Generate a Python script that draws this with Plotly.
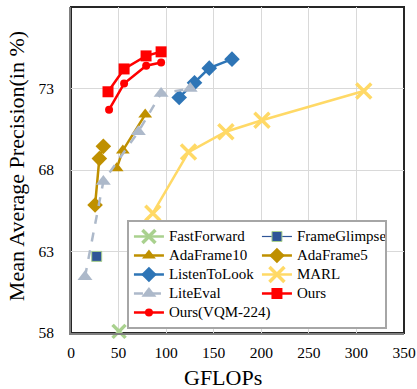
import plotly.graph_objects as go

# ---- data ----
ff_x = [50.5]
ff_y = [58.1]

fg_x = [27]
fg_y = [62.7]

ada10_x = [48, 54.5, 78]
ada10_y = [68.1, 69.2, 71.4]

ada5_x = [25.3, 29.8, 34]
ada5_y = [65.85, 68.7, 69.45]

ltl_x = [113.7, 129.8, 145.3, 169.2]
ltl_y = [72.45, 73.35, 74.25, 74.8]

marl_x = [86, 123.5, 162.8, 200.7, 307.7]
marl_y = [65.35, 69.1, 70.35, 71.05, 72.85]

lite_x = [14.7, 34, 70.8, 94.7, 125.3]
lite_y = [61.45, 67.3, 70.35, 72.7, 73.0]

ours_x = [38.9, 55.8, 78.9, 94.7]
ours_y = [72.8, 74.2, 75.0, 75.25]

vqm_x = [40, 55.8, 79, 94.7]
vqm_y = [71.7, 73.3, 74.4, 74.6]

x_ticks = [0, 50, 100, 150, 200, 250, 300, 350]
y_ticks = [58, 63, 68, 73, 78]

x_title = "GFLOPs"
y_title = "Mean Average Precision(in %)"

FONT = "Liberation Serif, Times New Roman, serif"

fig = go.Figure()

def add(name, x, y, color, symbol, size, dash="solid", lw=2.5, mline=None, mlinew=0, mcolor=None):
    fig.add_trace(go.Scatter(
        x=x, y=y, name='<span style="font-size:15px">' + name + '</span>',
        mode="lines+markers",
        line=dict(color=color, width=lw, dash=dash),
        marker=dict(symbol=symbol, size=size, color=mcolor or color,
                    line=dict(color=mline or (mcolor or color), width=mlinew)),
        cliponaxis=False,
    ))

add("FastForward", ff_x, ff_y, "#A9D18E", "x-thin", 13, mlinew=3.5)
add("FrameGlimpse", fg_x, fg_y, "#2F5597", "square", 10, lw=1.2, mline="#A9D18E", mlinew=1)
add("AdaFrame10", ada10_x, ada10_y, "#BF9000", "triangle-up", 12)
add("AdaFrame5", ada5_x, ada5_y, "#BF9000", "diamond", 12)
add("ListenToLook", ltl_x, ltl_y, "#2E75B6", "diamond", 12)
add("MARL", marl_x, marl_y, "#FFD966", "x-thin", 15, mlinew=3.5)
add("LiteEval", lite_x, lite_y, "#ADB9CA", "triangle-up", 13, dash="dash", lw=2.5)
add("Ours", ours_x, ours_y, "#FF0000", "square", 11)
add("Ours(VQM-224)", vqm_x, vqm_y, "#FF0000", "circle", 8)

fig.update_layout(
    width=417, height=389,
    margin=dict(l=71, r=13, t=7, b=56, autoexpand=False),
    paper_bgcolor="white", plot_bgcolor="white",
    font=dict(family=FONT, color="black", size=15),
    showlegend=True,
    legend=dict(
        orientation="h", x=0.168, y=0.0123, xanchor="left", yanchor="bottom",
        entrywidth=83, entrywidthmode="pixels",
        bgcolor="white", bordercolor="#A6A6A6", borderwidth=2,
        font=dict(family=FONT, size=10.8, color="black"),
        traceorder="normal",
    ),
    shapes=[dict(type="rect", xref="paper", yref="paper", x0=0, y0=0, x1=1, y1=1,
                 line=dict(color="#262626", width=2), layer="below")],
    annotations=[
        dict(text=x_title, xref="paper", yref="paper", x=0.455, y=-0.138,
             xanchor="center", yanchor="middle", showarrow=False,
             font=dict(family=FONT, size=22, color="black")),
        dict(text=y_title, xref="paper", yref="paper", x=-0.163, y=0.511,
             xanchor="center", yanchor="middle", showarrow=False, textangle=-90,
             font=dict(family=FONT, size=22, color="black")),
    ],
)

fig.update_xaxes(
    range=[0, 350], tickvals=x_ticks, ticktext=[str(v) for v in x_ticks],
    showgrid=True, gridcolor="#D9D9D9", gridwidth=1,
    showline=True, linecolor="#808080", linewidth=2,
    ticks="", zeroline=False, automargin=False,
    tickfont=dict(family=FONT, size=15.5, color="black"),
    ticklabelstandoff=4,
)
fig.update_yaxes(
    range=[58, 78], tickvals=y_ticks, ticktext=[str(v) for v in y_ticks],
    showgrid=True, gridcolor="#D9D9D9", gridwidth=1,
    showline=True, linecolor="#808080", linewidth=2,
    ticks="", zeroline=False, automargin=False,
    tickfont=dict(family=FONT, size=15.5, color="black"),
    ticklabelstandoff=12,
)

fig.write_html("out.html", config={"displayModeBar": False},
               post_script="document.body.style.margin='0px';")
